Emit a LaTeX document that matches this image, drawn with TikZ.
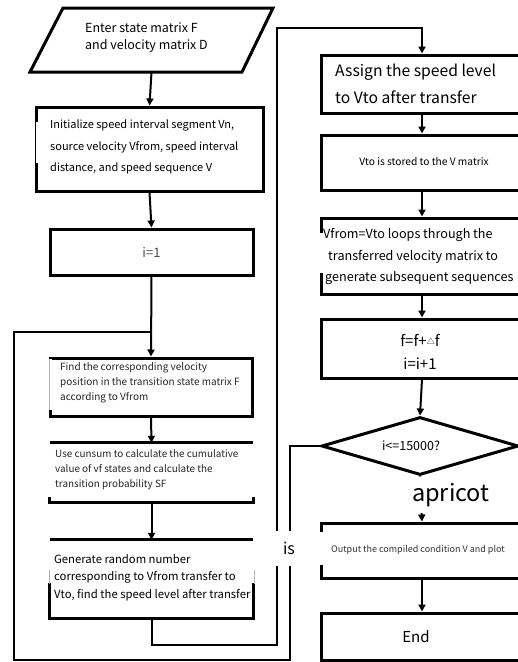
\documentclass[tikz,border=0pt]{standalone}
\usepackage{fontspec}
\setmainfont{Noto Sans CJK SC}
\usetikzlibrary{arrows.meta,shapes.geometric,calc}

\begin{document}
\begin{tikzpicture}[x=1pt,y=-1pt,
  frame/.style={draw, line width=3pt, rectangle, inner sep=0pt},
  hollow/.style={rectangle, inner sep=0pt},
  txt/.style={inner sep=0pt, align=left},
  conn/.style={line width=2pt},
  arr/.style={conn, -{Triangle[length=7pt,width=7pt]}},
  lbl/.style={fill=white, inner sep=0pt},
  thickedge/.style={line width=3pt}
]
\useasboundingbox (0,0) rectangle (518,662);
\fill[white] (0,0) rectangle (518,662);
\clip (0,0) rectangle (518,662);

% ---------- left column ----------
% input parallelogram
\node[hollow, minimum width=212pt, minimum height=64pt] (in) at (151.5,40) {};
\draw[thickedge, line join=miter] (63,8) -- (273,8) -- (242,72) -- (30,72) -- cycle;
\node[txt, anchor=west, font=\fontsize{12.5pt}{17pt}\selectfont] (inT) at (85,38)
  {Enter state matrix F\\and velocity matrix D};

% initialisation
\node[frame, minimum width=227pt, minimum height=84pt] (init) at (149.5,149) {};
\fill[white] (35.5,122) rectangle (37.6,163);
\node[txt, anchor=west, font=\fontsize{11pt}{21.5pt}\selectfont] (initT) at (50,147)
  {Initialize speed interval segment Vn,\\source velocity Vfrom, speed interval\\distance, and speed sequence V};

% counter
\node[frame, minimum width=203pt, minimum height=46pt, text=black!70,
      font=\fontsize{13pt}{15pt}\selectfont] (i1) at (151.5,252) {i=1};

% locate velocity
\node[frame, minimum width=202pt, minimum height=58pt] (find) at (151,387) {};
\fill[white] (48.4,359) rectangle (51.6,410);
\draw[gray!60, line width=0.6pt] (48.8,359) -- (48.8,410);
\node[txt, anchor=west, text=black!85, font=\fontsize{10pt}{15pt}\selectfont] (findT) at (60,383)
  {Find the corresponding velocity\\position in the transition state matrix F\\according to Vfrom};

% cumulative sum
\node[hollow, minimum width=203pt, minimum height=59pt] (cums) at (151.5,472.5) {};
\draw[thickedge] (cums.north west) -- (cums.north east);
\draw[thickedge] ([yshift=5pt]cums.south west) -- (cums.south west) -- (cums.south east) -- ([yshift=5pt]cums.south east);
\node[txt, anchor=west, text=black!85, font=\fontsize{9.9pt}{15pt}\selectfont] (cumsT) at (55,470)
  {Use cunsum to calculate the cumulative\\value of vf states and calculate the\\transition probability SF};

% random transfer
\node[hollow, minimum width=203pt, minimum height=78pt] (gen) at (151.5,579) {};
\draw[thickedge] (gen.north west) -- (gen.north east);
\draw[thickedge] ([yshift=35pt]gen.south west) -- (gen.south west) -- (gen.south east) -- ([yshift=35pt]gen.south east);
\draw[gray!60, line width=0.6pt] (49,570) -- (49,584);
\draw[gray!60, line width=0.6pt] (254,570) -- (254,584);
\node[txt, anchor=west, font=\fontsize{11.3pt}{17.5pt}\selectfont] (genT) at (54,577.5)
  {Generate random number\\corresponding to Vfrom transfer to\\Vto, find the speed level after transfer};

% ---------- right column ----------
\node[frame, minimum width=202pt, minimum height=58pt] (assign) at (422,84) {};
\node[txt, anchor=west, font=\fontsize{15.7pt}{27pt}\selectfont] (assignT) at (335,83.5)
  {Assign the speed level\\to Vto after transfer};

\node[frame, minimum width=202pt, minimum height=55pt] (stored) at (422,162.5) {};
\node[txt, font=\fontsize{10.2pt}{12pt}\selectfont] (storedT) at (424,162) {Vto is stored to the V matrix};

\node[frame, minimum width=202pt, minimum height=76pt] (loops) at (422,256) {};
\fill[white] (319.4,233) rectangle (322.6,273);
\node[txt, anchor=west, font=\fontsize{12.6pt}{21.5pt}\selectfont] (loopsT) at (323,256.5)
  {Vfrom=Vto loops through the\\\hspace*{5pt}transferred velocity matrix to\\\hspace*{2pt}generate subsequent sequences};

\node[frame, minimum width=202pt, minimum height=59pt] (finc) at (422,348.5) {};
\node[txt, align=center, font=\fontsize{15pt}{23pt}\selectfont] (fincT) at (420,351.5)
  {f=f+\raisebox{2pt}{\fontsize{8pt}{8pt}\selectfont △}f\\i=i+1};

\node[diamond, draw, line width=3pt, inner sep=0pt, minimum width=197pt, minimum height=58pt,
      font=\fontsize{12.5pt}{14pt}\selectfont] (dec) at (420,446) {\hspace*{-18pt}i<=15000?};

\node[frame, minimum width=202pt, minimum height=55pt] (out) at (422,550.5) {};
\fill[white] (319.4,532) rectangle (322.6,565);
\node[txt, anchor=west, text=black!80, font=\fontsize{9pt}{11pt}\selectfont] (outT) at (331,550)
  {Output the compiled condition V and plot};

\node[frame, minimum width=202pt, minimum height=47pt, font=\fontsize{15pt}{18pt}\selectfont] (end) at (422,636.5) {\hspace*{-12pt}End};

% ---------- connectors ----------
\draw[arr] (in.south) -- (init.north);
\draw[arr] (init.south) -- (i1.north);
\draw[arr] (i1.south) -- (find.north);
\draw[arr] (find.south) -- (cums.north);
\draw[arr] (cums.south) -- (gen.north);

\draw[arr] (assign.south) -- (stored.north);
\draw[arr] (stored.south) -- (loops.north);
\draw[arr] (loops.south) -- (finc.north);
\draw[arr] (finc.south) -- (dec.north);
\draw[arr] (dec.south) -- node[lbl, pos=0.42, xshift=30pt, minimum height=36pt,
      font=\fontsize{23.5pt}{25pt}\selectfont] (noLbl) {apricot} (out.north);
\draw[arr] (out.south) -- (end.north);

% transfer result carried over to the right column
\coordinate (r1) at (277,645);
\coordinate (r2) at (277,28);
\draw[arr] (gen.south) |- (r1) -- (r2) -| (assign.north);

% loop back while the counter is within range
\coordinate (d1) at (290,446);
\coordinate (d2) at (290,660);
\coordinate (d3) at (14,660);
\coordinate (d4) at (14,332);
\coordinate (jy) at (0,332);
\coordinate (join) at (i1.south |- jy);
\draw[conn] (dec.west) -- (d1) -- node[lbl, pos=0.477, xshift=-1pt, minimum width=30pt, minimum height=35pt,
      font=\fontsize{16pt}{18pt}\selectfont] (yesLbl) {is} (d2) -- (d3) -- (d4) -- (join);
\end{tikzpicture}
\end{document}
